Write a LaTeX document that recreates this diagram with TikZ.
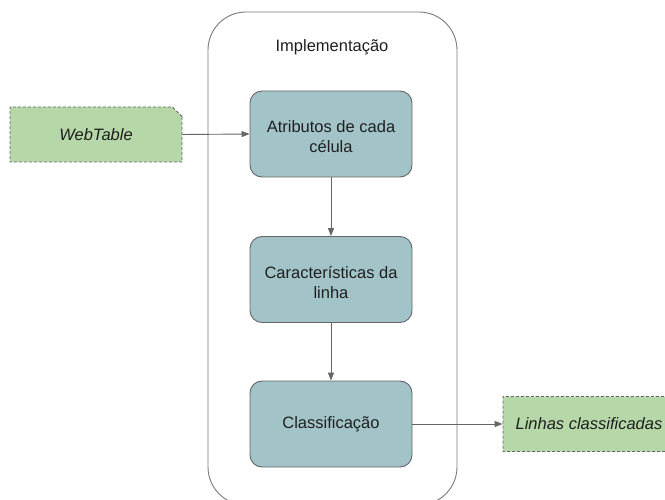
\documentclass[tikz,border=0pt]{standalone}
\usepackage{fontspec}
\setmainfont{Liberation Sans}
\usetikzlibrary{arrows.meta,shapes.misc}
\definecolor{boxfill}{HTML}{A2C4C9}
\definecolor{cardfill}{HTML}{B6D7A8}
\definecolor{edgegray}{HTML}{666666}
\definecolor{framegray}{HTML}{7A7A7A}
\begin{document}
\begin{tikzpicture}[x=1pt,y=-1pt,
  txt/.style={font=\fontsize{16.5pt}{20pt}\selectfont, text=black!88, align=center, inner sep=0pt},
  stepbox/.style={draw=edgegray, fill=boxfill, line width=0.9pt, rounded corners=12pt,
    minimum width=162pt, minimum height=86pt, inner sep=0pt},
  card/.style={txt, font=\fontsize{16.5pt}{20pt}\selectfont\itshape, draw=edgegray, fill=cardfill,
    dashed, dash pattern=on 3pt off 2pt, line width=0.9pt,
    chamfered rectangle, chamfered rectangle corners=north east,
    chamfered rectangle xsep=10pt, chamfered rectangle angle=45,
    minimum width=172pt, minimum height=55pt, inner sep=0pt},
  frame/.style={draw=framegray, line width=0.9pt, rounded corners=38pt,
    minimum width=249pt, minimum height=493pt, inner sep=0pt},
  conn/.style={draw=edgegray, line width=0.9pt, -{Triangle[length=8pt,width=6pt]}}
]
\useasboundingbox (0,0) rectangle (665,500);
\node[frame] (impl) at (332.5,258.5) {};
\node[txt] (impltitle) at (332,47) {Implementação};
\node[stepbox] (b1) at (331,134) {};
\node[txt] (b1t) at (331,137) {Atributos de cada\\célula};
\node[stepbox] (b2) at (331,279.5) {};
\node[txt] (b2t) at (331,282.5) {Características da\\linha};
\node[stepbox] (b3) at (331,424) {};
\node[txt] (b3t) at (331,424) {Classificação};
\node[card] (web) at (96,134.5) {WebTable};
\node[card] (out) at (589,424) {Linhas classificadas};
\draw[conn] (web.east) -- (b1.west);
\draw[conn] (b1.south) -- (b2.north);
\draw[conn] (b2.south) -- (b3.north);
\draw[conn] (b3.east) -- (out.west);
\end{tikzpicture}
\end{document}
